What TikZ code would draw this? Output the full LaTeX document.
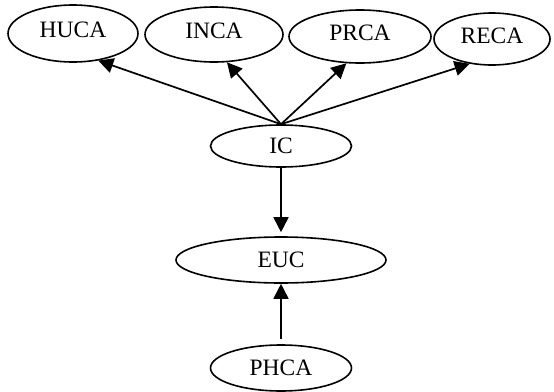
\documentclass[tikz,border=0pt]{standalone}
\usepackage{fontspec}
\setmainfont{Liberation Serif}
\usetikzlibrary{shapes.geometric,arrows.meta}
\begin{document}
\begin{tikzpicture}[x=1pt,y=-1pt,
  ell/.style={ellipse,draw=black,line width=1.6pt,inner sep=0pt,font=\fontsize{23.5}{23.5}\selectfont},
  topell/.style={ell,text depth=7pt},
  conn/.style={line width=1.7pt,-{Triangle[length=15pt,width=15pt]}}]
\useasboundingbox (0,0) rectangle (554,391);
\node[topell,minimum width=130pt,minimum height=57pt] (huca) at (73,33.5) {HUCA};
\node[topell,minimum width=138pt,minimum height=55pt] (inca) at (214,34.5) {INCA};
\node[topell,minimum width=142pt,minimum height=53pt] (prca) at (360,36.5) {PRCA};
\node[topell,minimum width=116pt,minimum height=52pt] (reca) at (492,39) {RECA};
\node[ell,minimum width=141pt,minimum height=42pt] (ic) at (281,146) {IC};
\node[ell,minimum width=210pt,minimum height=46pt] (euc) at (281,260) {EUC};
\node[ell,minimum width=141pt,minimum height=46pt] (phca) at (281,368) {PHCA};
\draw[conn] (ic.north) -- (huca.-47.5);
\draw[conn] (ic.north) -- (inca.-65.5);
\draw[conn] (ic.north) -- (prca.-117.8);
\draw[conn] (ic.north) -- (reca.-132);
\draw[conn,shorten >=4pt] (ic) -- (euc);
\draw[conn,shorten <=5pt] (phca) -- (euc);
\end{tikzpicture}
\end{document}
